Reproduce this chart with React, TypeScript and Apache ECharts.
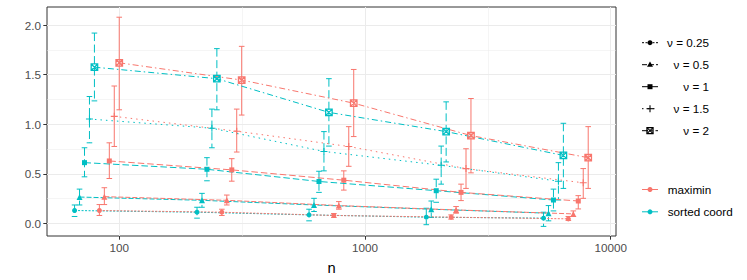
import React, { useEffect, useRef } from "react";
import * as echarts from "echarts";

// ---- data ----
const nValues = [100, 315, 900, 2700, 8100];
const nuLabels = ["0.25", "0.5", "1", "1.5", "2"];
const methodNames = ["maximin", "sorted coord"];
const xMajorTicks = [100, 1000, 10000];
const xMinorTicks = [316.2, 3162.3];
const yMajorTicks = [0, 0.5, 1, 1.5, 2];
const yMinorTicks = [0.25, 0.75, 1.25, 1.75];

// sorted coord (teal)
const sortedMean = [
  [0.13, 0.113, 0.086, 0.063, 0.053],
  [0.266, 0.233, 0.186, 0.143, 0.103],
  [0.613, 0.546, 0.423, 0.33, 0.236],
  [1.053, 0.96, 0.726, 0.586, 0.426],
  [1.576, 1.46, 1.12, 0.926, 0.686],
];
const sortedLow = [
  [0.07, 0.053, 0.026, -0.013, -0.03],
  [0.186, 0.163, 0.12, 0.06, 0.026],
  [0.47, 0.43, 0.313, 0.213, 0.126],
  [0.813, 0.763, 0.53, 0.396, 0.236],
  [1.236, 1.146, 0.78, 0.62, 0.353],
];
const sortedHigh = [
  [0.186, 0.163, 0.143, 0.153, 0.113],
  [0.346, 0.303, 0.253, 0.226, 0.18],
  [0.763, 0.663, 0.526, 0.446, 0.346],
  [1.28, 1.153, 0.926, 0.78, 0.613],
  [1.92, 1.763, 1.46, 1.226, 1.01],
];

// maximin (red)
const maximinMean = [
  [0.13, 0.113, 0.08, 0.063, 0.046],
  [0.27, 0.233, 0.18, 0.136, 0.096],
  [0.63, 0.54, 0.436, 0.313, 0.226],
  [1.08, 0.93, 0.776, 0.553, 0.41],
  [1.62, 1.446, 1.213, 0.886, 0.663],
];
const maximinLow = [
  [0.08, 0.08, 0.06, 0.043, 0.03],
  [0.19, 0.186, 0.143, 0.103, 0.07],
  [0.453, 0.426, 0.336, 0.23, 0.146],
  [0.776, 0.72, 0.576, 0.353, 0.253],
  [1.146, 1.093, 0.876, 0.51, 0.353],
];
const maximinHigh = [
  [0.19, 0.143, 0.1, 0.086, 0.07],
  [0.36, 0.286, 0.22, 0.17, 0.126],
  [0.813, 0.653, 0.53, 0.396, 0.28],
  [1.386, 1.153, 0.976, 0.753, 0.553],
  [2.08, 1.786, 1.553, 1.26, 0.976],
];

// ---- styling ----
const FONT = "Liberation Sans, Arial, Helvetica, sans-serif";
const RED = "#F8766D";
const TEAL = "#00BFC4";
const DODGE = 0.0202; // horizontal dodge step, log10 units
const X_MIN = 1.706;
const X_MAX = 4.0216;
const Y_MIN = -0.127;
const Y_MAX = 2.183;

const nuDash: number[][] = [
  [2, 1.5],
  [5, 2],
  [6.5, 3],
  [1.5, 4],
  [6, 3, 1.5, 3],
];
const PLUS_PATH = "path://M0,5L10,5M5,0L5,10";
const BOXX_PATH = "path://M0,0L10,0L10,10L0,10ZM0,0L10,10M10,0L0,10";
const nuSymbol = ["circle", "triangle", "rect", PLUS_PATH, BOXX_PATH];
const nuSymbolSize = [5, 6, 5, 7, 6.5];
const nuStrokeWidth = [0, 0, 0, 1.1, 1.3];

const methods = [
  { name: methodNames[1], color: TEAL, mean: sortedMean, low: sortedLow, high: sortedHigh, errDash: [8, 3.5], offset: 0 },
  { name: methodNames[0], color: RED, mean: maximinMean, low: maximinLow, high: maximinHigh, errDash: null as number[] | null, offset: 5 },
];

const log10 = (v: number) => Math.log10(v);

function buildOption() {
  const series: any[] = [];
  methods.forEach((m) => {
    nuLabels.forEach((_, j) => {
      const k = m.offset + j;
      const xs = nValues.map((n) => log10(n) - (9 - k) * DODGE);
      // error bars
      series.push({
        type: "custom",
        silent: true,
        z: 3,
        encode: { x: 0, y: [1, 2] },
        data: xs.map((x, i) => [x, m.low[j][i], m.high[j][i]]),
        renderItem: (params: any, api: any) => {
          const x = api.value(0);
          const top = api.coord([x, api.value(2)]);
          const bot = api.coord([x, api.value(1)]);
          const hw = 2.8;
          const style: any = { stroke: m.color, lineWidth: 1 };
          if (m.errDash) style.lineDash = m.errDash;
          const capStyle = { stroke: m.color, lineWidth: 1 };
          return {
            type: "group",
            children: [
              { type: "line", shape: { x1: top[0], y1: top[1], x2: bot[0], y2: bot[1] }, style },
              { type: "line", shape: { x1: top[0] - hw, y1: top[1], x2: top[0] + hw, y2: top[1] }, style: capStyle },
              { type: "line", shape: { x1: bot[0] - hw, y1: bot[1], x2: bot[0] + hw, y2: bot[1] }, style: capStyle },
            ],
          };
        },
      });
      // lines + points
      series.push({
        type: "line",
        silent: true,
        z: 4,
        data: xs.map((x, i) => [x, m.mean[j][i]]),
        symbol: nuSymbol[j],
        symbolSize: nuSymbolSize[j],
        showSymbol: true,
        itemStyle: nuStrokeWidth[j] > 0
          ? { color: "rgba(0,0,0,0)", borderColor: m.color, borderWidth: nuStrokeWidth[j] }
          : { color: m.color, borderWidth: 0 },
        lineStyle: { color: m.color, width: 1, type: nuDash[j] },
        emphasis: { disabled: true },
      });
    });
  });

  // legend graphics
  const g: any[] = [];
  const kx0 = 642, kx1 = 658, kcx = 650;
  nuLabels.forEach((lab, j) => {
    const cy = 42.7 + 22 * j;
    g.push({ type: "line", shape: { x1: kx0, y1: cy, x2: kx1, y2: cy }, style: { stroke: "#000", lineWidth: 1, lineDash: nuDash[j] } });
    if (j === 0) g.push({ type: "circle", shape: { cx: kcx, cy, r: 2.5 }, style: { fill: "#000" } });
    if (j === 1) g.push({ type: "polygon", shape: { points: [[kcx, cy - 3.3], [kcx - 3, cy + 2], [kcx + 3, cy + 2]] }, style: { fill: "#000" } });
    if (j === 2) g.push({ type: "rect", shape: { x: kcx - 2.5, y: cy - 2.5, width: 5, height: 5 }, style: { fill: "#000" } });
    if (j === 3) {
      g.push({ type: "line", shape: { x1: kcx - 3.5, y1: cy, x2: kcx + 3.5, y2: cy }, style: { stroke: "#000", lineWidth: 1.1 } });
      g.push({ type: "line", shape: { x1: kcx, y1: cy - 3.5, x2: kcx, y2: cy + 3.5 }, style: { stroke: "#000", lineWidth: 1.1 } });
    }
    if (j === 4) {
      g.push({ type: "rect", shape: { x: kcx - 3, y: cy - 3, width: 6, height: 6 }, style: { fill: "none", stroke: "#000", lineWidth: 1.3 } });
      g.push({ type: "line", shape: { x1: kcx - 3, y1: cy - 3, x2: kcx + 3, y2: cy + 3 }, style: { stroke: "#000", lineWidth: 1.1 } });
      g.push({ type: "line", shape: { x1: kcx + 3, y1: cy - 3, x2: kcx - 3, y2: cy + 3 }, style: { stroke: "#000", lineWidth: 1.1 } });
    }
    g.push({
      type: "text",
      x: 709,
      y: cy,
      style: { text: "\u03bd = " + lab, fill: "#000", fontSize: 11.7, fontFamily: FONT, align: "right", verticalAlign: "middle", textAlign: "right", textVerticalAlign: "middle" },
    });
  });
  const legendMethods = [methods[1], methods[0]];
  legendMethods.forEach((m, i) => {
    const cy = 189.5 + 22.3 * i;
    g.push({ type: "line", shape: { x1: kx0, y1: cy, x2: kx1, y2: cy }, style: { stroke: m.color, lineWidth: 1 } });
    g.push({ type: "circle", shape: { cx: kcx, cy, r: 2.5 }, style: { fill: m.color } });
    g.push({
      type: "text",
      x: 667.7,
      y: cy,
      style: { text: m.name, fill: "#000", fontSize: 11.7, fontFamily: FONT, align: "left", verticalAlign: "middle", textAlign: "left", textVerticalAlign: "middle" },
    });
  });

  const gridLineMajor = { show: true, lineStyle: { color: "#EBEBEB", width: 1 } };
  const gridLineMinor = { show: true, lineStyle: { color: "#EBEBEB", width: 0.5 } };

  return {
    animation: false,
    backgroundColor: "#ffffff",
    grid: { left: 47, right: 131, top: 7, bottom: 42, show: true, borderColor: "#333333", borderWidth: 1, backgroundColor: "#ffffff" },
    xAxis: [
      {
        type: "value",
        min: X_MIN,
        max: X_MAX,
        name: "n",
        nameLocation: "middle",
        nameGap: 24,
        nameTextStyle: { color: "#000", fontSize: 14.7, fontFamily: FONT },
        axisLine: { show: false, onZero: false },
        axisTick: { show: true, length: 3.7, lineStyle: { color: "#333333", width: 1 }, customValues: xMajorTicks.map(log10) },
        axisLabel: {
          customValues: xMajorTicks.map(log10),
          formatter: (v: number) => String(Math.round(Math.pow(10, v))),
          color: "#4D4D4D",
          fontSize: 11.7,
          fontFamily: FONT,
          margin: 5,
        },
        splitLine: gridLineMajor,
      },
      {
        type: "value",
        min: X_MIN,
        max: X_MAX,
        axisLine: { show: false, onZero: false },
        axisTick: { show: false, customValues: xMinorTicks.map(log10) },
        axisLabel: { show: false, customValues: xMinorTicks.map(log10) },
        splitLine: gridLineMinor,
      },
    ],
    yAxis: [
      {
        type: "value",
        min: Y_MIN,
        max: Y_MAX,
        axisLine: { show: false, onZero: false },
        axisTick: { show: true, length: 3.7, lineStyle: { color: "#333333", width: 1 }, customValues: yMajorTicks },
        axisLabel: {
          customValues: yMajorTicks,
          formatter: (v: number) => v.toFixed(1),
          color: "#4D4D4D",
          fontSize: 11.7,
          fontFamily: FONT,
          margin: 6,
        },
        splitLine: gridLineMajor,
      },
      {
        type: "value",
        min: Y_MIN,
        max: Y_MAX,
        position: "left",
        axisLine: { show: false, onZero: false },
        axisTick: { show: false, customValues: yMinorTicks },
        axisLabel: { show: false, customValues: yMinorTicks },
        splitLine: gridLineMinor,
      },
    ],
    series,
    graphic: { elements: g },
  };
}

export default function App() {
  const ref = useRef<HTMLDivElement>(null);
  useEffect(() => {
    if (!ref.current) return;
    const chart = echarts.init(ref.current, undefined, { renderer: "svg" });
    chart.setOption(buildOption() as any);
    return () => chart.dispose();
  }, []);
  return <div ref={ref} style={{ position: "fixed", left: 0, top: 0, width: 747, height: 280, background: "#fff" }} />;
}
